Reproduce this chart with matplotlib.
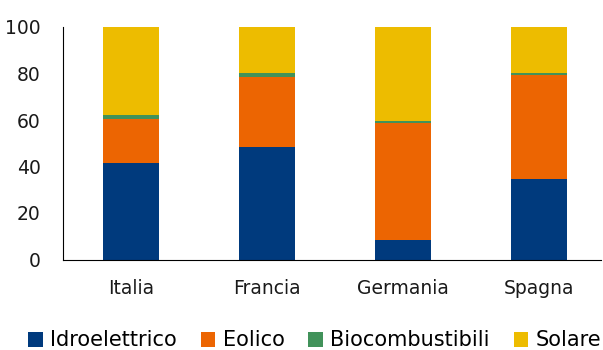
import matplotlib.pyplot as plt
import numpy as np

plt.rcParams['font.family'] = ['DejaVu Sans']

paesi = ['Italia', 'Francia', 'Germania', 'Spagna']
idro = [41.4, 48.3, 8.5, 34.5]
eolico = [18.9, 30.3, 50.3, 44.9]
bio = [1.9, 1.7, 0.8, 0.9]
solare = [37.8, 19.7, 40.4, 19.7]

serie = [('Idroelettrico', idro, '#003a7d'),
         ('Eolico', eolico, '#ec6502'),
         ('Biocombustibili', bio, '#41925a'),
         ('Solare', solare, '#edbc00')]

fig = plt.figure(figsize=(6.03, 3.5), dpi=100)
ax = fig.add_axes([63 / 603, 90.5 / 350, 538 / 603, 232.5 / 350])

x = np.arange(len(paesi))
base = np.zeros(len(paesi))
for nome, val, col in serie:
    ax.bar(x, val, width=0.41, bottom=base, color=col, label=nome)
    base += np.array(val)

ax.set_xlim(-0.5, 3.456)
ax.set_ylim(0, 100)
ax.set_yticks(range(0, 101, 20))
ax.set_xticks(x)
ax.set_xticklabels(paesi, fontsize=14.5)
ax.tick_params(length=0, labelsize=13.5, colors='#1a1a1a', pad=14)
ax.tick_params(axis='y', pad=16)
for lab in ax.get_yticklabels():
    lab.set_horizontalalignment('right')
ax.spines['top'].set_visible(False)
ax.spines['right'].set_visible(False)
ax.spines['left'].set_color('black')
ax.spines['bottom'].set_color('black')

fig.legend(loc='lower center', bbox_to_anchor=(0.522, -0.055), ncol=4, frameon=False,
           fontsize=15, handlelength=0.7, handleheight=0.7, handletextpad=0.35,
           columnspacing=1.15)

fig.savefig('out.png', dpi=100)
